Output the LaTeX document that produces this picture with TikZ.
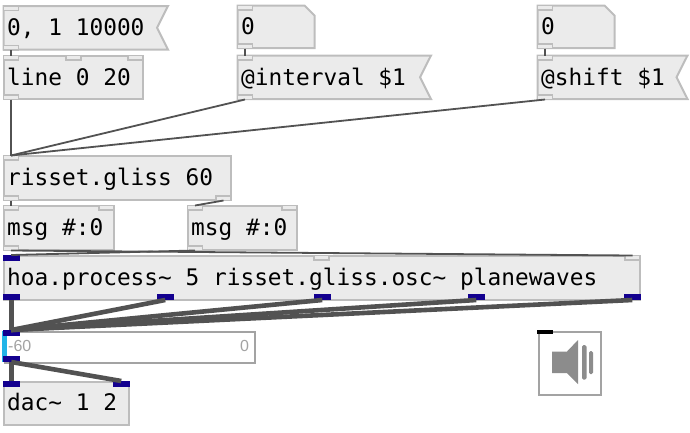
\documentclass[tikz,border=0pt]{standalone}
\usepackage{fontspec}
\setmainfont{Liberation Sans}
\newfontfamily\objfont{DejaVu Sans Mono}
\definecolor{boxfill}{HTML}{EBEBEB}
\definecolor{boxline}{HTML}{BDBDBD}
\definecolor{wirecol}{HTML}{525252}
\definecolor{sigblue}{HTML}{13008F}
\definecolor{gainline}{HTML}{A3A3A3}
\definecolor{gaincyan}{HTML}{22B4E8}
\definecolor{iconcol}{HTML}{8C8C8C}
\tikzset{
  x=1pt,y=-1pt,
  objbox/.style={draw=boxline,fill=boxfill,line width=2pt},
  objlabel/.style={anchor=base west,inner sep=0pt,font=\objfont\fontsize{22.8}{23}\selectfont,text=black},
  portbox/.style={draw=boxline,fill=boxfill,line width=1.2pt,minimum width=15pt,minimum height=4.5pt,inner sep=0pt,outer sep=0pt,anchor=north west},
  sigport/.style={fill=sigblue,minimum width=16.5pt,minimum height=6pt,inner sep=0pt,outer sep=0pt,anchor=north west},
  ctlwire/.style={draw=wirecol,line width=1.8pt},
  sigwire/.style={draw=wirecol,line width=4.6pt},
  gainlabel/.style={anchor=base west,inner sep=0pt,font=\fontsize{16}{16}\selectfont,text=gainline},
}
\newcommand{\flagbox}[4]{\path[objbox] (#1,#2) -- (#3,#2) -- ({#3-11},{(#2+#4)/2}) -- (#3,#4) -- (#1,#4) -- cycle;}
\newcommand{\numbox}[4]{\path[objbox] (#1,#2) -- ({#3-10},#2) -- (#3,{#2+10}) -- (#3,#4) -- (#1,#4) -- cycle;}
\newcommand{\rectbox}[4]{\path[objbox] (#1,#2) rectangle (#3,#4);}
\begin{document}
\begin{tikzpicture}
\useasboundingbox (0,0) rectangle (690,432);
\rectbox{3.5}{55.5}{143}{99}
\flagbox{3.5}{6}{168}{49.5}
\numbox{237.5}{5.5}{314.5}{48}
\flagbox{237.5}{55.5}{431}{99}
\numbox{537.5}{5.5}{614.5}{48}
\flagbox{537.5}{55.5}{687.5}{99}
\rectbox{3.5}{155.5}{231}{200}
\rectbox{3.5}{205.5}{114}{250}
\rectbox{187.5}{205.5}{297}{250}
\rectbox{3.5}{255.5}{640}{300}
\rectbox{3.5}{381.5}{129}{425}
% ports
\node[portbox] (msgaout) at (3.5,45.5) {};
\node[portbox] (msgain) at (3.5,6) {};
\node[portbox] (linein) at (3.5,55.5) {};
\node[portbox] (lineinb) at (66,55.5) {};
\node[portbox] (lineinc) at (128,55.5) {};
\node[portbox] (lineout) at (3.5,95) {};
\node[portbox] (numain) at (237.5,5.5) {};
\node[portbox] (numaout) at (237.5,44) {};
\node[portbox] (intin) at (237.5,55.5) {};
\node[portbox] (intout) at (237.5,95) {};
\node[portbox] (numbin) at (537.5,5.5) {};
\node[portbox] (numbout) at (537.5,44) {};
\node[portbox] (shiftin) at (537.5,55.5) {};
\node[portbox] (shiftout) at (537.5,95) {};
\node[portbox] (risin) at (3.5,155.5) {};
\node[portbox] (risouta) at (3.5,196) {};
\node[portbox] (risoutb) at (216,196) {};
\node[portbox] (msgbin) at (3.5,205.5) {};
\node[portbox] (msgbinb) at (99,205.5) {};
\node[portbox] (msgbout) at (3.5,246) {};
\node[portbox] (msgcin) at (187.5,205.5) {};
\node[portbox] (msgcinb) at (282,205.5) {};
\node[portbox] (msgcout) at (187.5,246) {};
\node[portbox] (hoainb) at (314,255.5) {};
\node[portbox] (hoainc) at (625,255.5) {};
% control wires
\draw[ctlwire] (msgaout.south) -- (linein.north);
\draw[ctlwire] (numaout.south) -- (intin.north);
\draw[ctlwire] (numbout.south) -- (shiftin.north);
\draw[ctlwire] (lineout.south) -- (risin.north);
\draw[ctlwire] (intout.south) -- (risin.north);
\draw[ctlwire] (shiftout.south) -- (risin.north);
\draw[ctlwire] (risouta.south) -- (msgbin.north);
\draw[ctlwire] (risoutb.south) -- (msgcin.north);
% labels
\node[objlabel] (tmsg) at (7,35) {0, 1 10000};
\node[objlabel] (tline) at (7,85) {line 0 20};
\node[objlabel] (tnuma) at (241,34) {0};
\node[objlabel] (tint) at (241,85) {@interval \$1};
\node[objlabel] (tnumb) at (541,34) {0};
\node[objlabel] (tshift) at (541,85) {@shift \$1};
\node[objlabel] (tris) at (7,185) {risset.gliss 60};
\node[objlabel] (tmsgb) at (7,235) {msg \#:0};
\node[objlabel] (tmsgc) at (191,235) {msg \#:0};
\node[objlabel] (thoa) at (7,285) {hoa.process\textasciitilde{} 5 risset.gliss.osc\textasciitilde{} planewaves};
\node[objlabel] (tdac) at (7,410) {dac\textasciitilde{} 1 2};
% signal ports
\node[sigport] (hoain) at (3,255) {};
\node[sigport] (hoaa) at (3,294) {};
\node[sigport] (hoab) at (157,294) {};
\node[sigport] (hoac) at (314,294) {};
\node[sigport] (hoad) at (468,294) {};
\node[sigport] (hoae) at (624,294) {};
\draw[ctlwire] (msgbout.south) -- (hoainc.north);
\draw[ctlwire] (msgcout.south) -- (hoain.north);
% gain
\node[draw=gainline,fill=white,line width=2pt,minimum width=250pt,minimum height=31pt,inner sep=0pt,anchor=north west] (gain) at (3.5,331) {};
\fill[gaincyan] (2,331) rectangle (7,362);
\node[gainlabel] (gl) at (8,351) {-60};
\node[gainlabel] (gr) at (240,351) {0};
\draw[sigwire] (11,300) -- (11,333);
\node[sigport] (gainin) at (3,330) {};
\node[sigport] (gainout) at (3,356) {};
\node[sigport] (dacl) at (3,381) {};
\node[sigport] (dacr) at (113,381) {};
\draw[sigwire] (hoaa.south) -- (gainin.north);
\draw[sigwire] (hoab.south) -- (gainin.north);
\draw[sigwire] (hoac.south) -- (gainin.north);
\draw[sigwire] (hoad.south) -- (gainin.north);
\draw[sigwire] (hoae.south) -- (gainin.north);
\draw[sigwire] (gainout.south) -- (dacl.north);
\draw[sigwire] (gainout.south) -- (dacr.north);
% ezdac
\node[draw=gainline,fill=white,line width=2pt,minimum width=62pt,minimum height=63pt,inner sep=0pt,anchor=north west] (ezdac) at (537.5,330.5) {};
\node[fill=black,minimum width=16.5pt,minimum height=4pt,inner sep=0pt,anchor=north west] (ezin) at (536.5,330) {};
\fill[iconcol] (552,351.5) -- (567,351.5) -- (578,340) -- (578,384) -- (567,373) -- (552,373) -- cycle;
\fill[iconcol,rounded corners=1.5pt] (582,345) rectangle (586.5,379.5);
\fill[iconcol,rounded corners=1.5pt] (589,351) rectangle (593,374);
\end{tikzpicture}
\end{document}
